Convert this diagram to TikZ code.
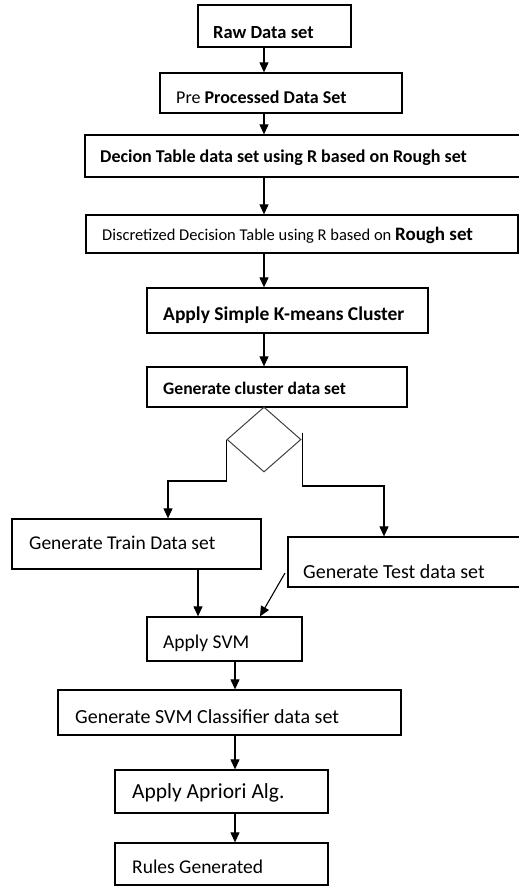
\documentclass[tikz,border=0pt]{standalone}
\usepackage{fontspec}
\setmainfont{Carlito}
\usetikzlibrary{arrows.meta,fit,shapes.geometric,calc}
\begin{document}
\begin{tikzpicture}[x=1pt,y=-1pt,
  box/.style={draw, line width=1.3pt, inner sep=0pt},
  lbl/.style={anchor=west, inner sep=0pt},
  bfl/.style={lbl, font=\fontsize{18}{20}\selectfont\bfseries},
  rgl/.style={lbl, font=\fontsize{19.5}{22}\selectfont},
  arr/.style={line width=1.1pt, -{Triangle[length=10pt,width=9pt]}},
  ln/.style={line width=1.1pt}]
\useasboundingbox (0,0) rectangle (519,886);
\clip (0,0) rectangle (519,886);
% boxes
\node[box, fit={(198,5) (351,47)}] (raw) {};
\node[box, fit={(160,73) (402,113)}] (pre) {};
\node[box, fit={(85,135) (530,177)}] (dec) {};
\node[box, fit={(86,215) (518,253)}] (disc) {};
\node[box, fit={(147,288) (428,333)}] (km) {};
\node[box, fit={(147,367) (407,407)}] (gc) {};
\node[diamond, draw, draw=black!75, line width=1pt, minimum width=74pt, minimum height=65pt, inner sep=0pt] (dia) at (264,439.5) {};
\node[box, fit={(12,519) (261,569)}] (train) {};
\node[box, fit={(288,537) (530,587)}] (test) {};
\node[box, fit={(147,617) (302,661)}] (svm) {};
\node[box, fit={(58,690) (401,735)}] (cls) {};
\node[box, fit={(115,770) (328,813)}] (apr) {};
\node[box, fit={(115,843) (328,885)}] (rules) {};
% labels
\node[bfl, font=\fontsize{18.5}{20}\selectfont\bfseries] (rawt) at (213,33) {Raw Data set};
\node[bfl] (pret) at (176,97) {\mdseries Pre \bfseries Processed Data Set};
\node[bfl] (dect) at (100,158) {Decion Table data set using R based on Rough set};
\node[lbl] (disct) at (102,235) {\fontsize{16.5}{18}\selectfont Discretized Decision Table using R based on \fontsize{19}{21}\selectfont\bfseries Rough set};
\node[bfl, font=\fontsize{19.5}{22}\selectfont\bfseries] (kmt) at (163,315) {Apply Simple K-means Cluster};
\node[bfl, font=\fontsize{17.6}{20}\selectfont\bfseries] (gct) at (163,388) {Generate cluster data set};
\node[rgl] (traint) at (29,543) {Generate Train Data set};
\node[rgl, font=\fontsize{20}{22}\selectfont] (testt) at (303,572) {Generate Test data set};
\node[rgl] (svmt) at (163,643) {Apply SVM};
\node[rgl, font=\fontsize{20}{22}\selectfont] (clst) at (75,717) {Generate SVM Classifier data set};
\node[rgl, font=\fontsize{21.5}{24}\selectfont] (aprt) at (132,793) {Apply Apriori Alg.};
\node[rgl] (rulest) at (132,867) {Rules Generated};
% helper coordinates
\coordinate (lb) at (168,481);
\coordinate (rb) at (384,486);
\coordinate (ax2) at (235,0);
\coordinate (ax3) at (198,0);
\coordinate (d1) at (285,573);
\coordinate (d2) at (260,0);
% connectors
\draw[arr] (raw.south -| dia.north) -- (pre.north -| dia.north);
\draw[arr] (pre.south -| dia.north) -- (dec.north -| dia.north);
\draw[arr] (dec.south -| dia.north) -- (disc.north -| dia.north);
\draw[arr] (disc.south -| dia.north) -- (km.north -| dia.north);
\draw[arr] (km.south -| dia.north) -- (gc.north -| dia.north);
\draw[arr] (dia.west) |- (lb) -- (train.north -| lb);
\draw[arr] ($(dia.east)+(1,-7)$) |- (rb) -- (test.north -| rb);
\draw[arr] (train.south -| ax3) -- (svm.north -| ax3);
\draw[arr] (d1) -- (svm.north -| d2);
\draw[arr] (svm.south -| ax2) -- (cls.north -| ax2);
\draw[arr] (cls.south -| ax2) -- (apr.north -| ax2);
\draw[arr] (apr.south -| ax2) -- (rules.north -| ax2);
\end{tikzpicture}
\end{document}
